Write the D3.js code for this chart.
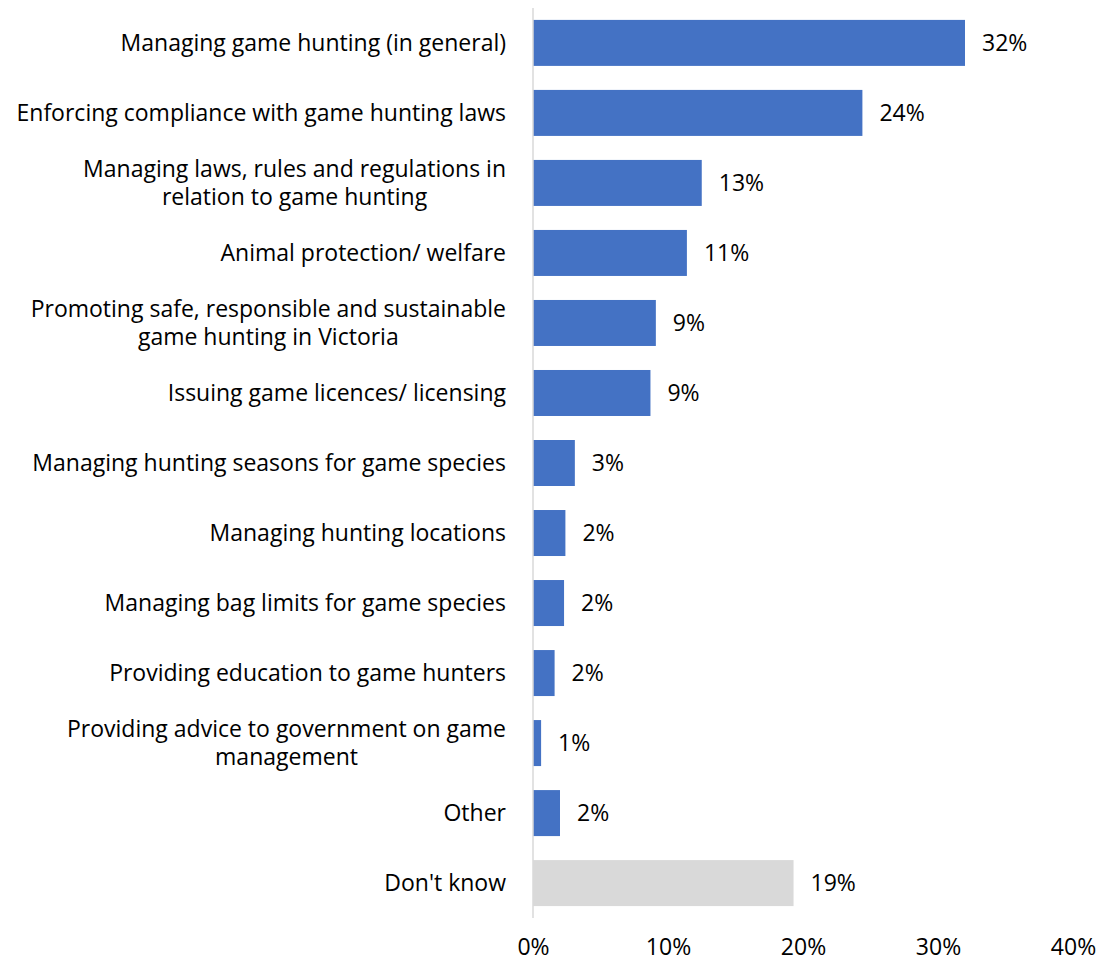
<!DOCTYPE html>
<html>
<head>
<meta charset="utf-8">
<script src="https://cdn.jsdelivr.net/npm/d3@7"></script>
<style>
  html, body { margin: 0; padding: 0; background: #fff; }
  svg text { font-family: "Open Sans", "Lato", sans-serif; fill: #000; }
</style>
</head>
<body>
<svg id="chart" width="1104" height="962"></svg>
<script>
// Response categories (line breaks mark wrapped labels)
const categories = [
  "Managing game hunting (in general)",
  "Enforcing compliance with game hunting laws",
  "Managing laws, rules and regulations in\nrelation to game hunting",
  "Animal protection/ welfare",
  "Promoting safe, responsible and sustainable\ngame hunting in Victoria",
  "Issuing game licences/ licensing",
  "Managing hunting seasons for game species",
  "Managing hunting locations",
  "Managing bag limits for game species",
  "Providing education to game hunters",
  "Providing advice to government on game\nmanagement",
  "Other",
  "Don't know"
];
// Share of respondents (%)
const values = [32.0, 24.4, 12.5, 11.4, 9.1, 8.7, 3.1, 2.4, 2.3, 1.6, 0.6, 2.0, 19.3];
const highlightCategory = "Don't know";
const xTicks = [0, 10, 20, 30, 40];

const svg = d3.select("#chart");
const margin = { left: 533, right: 31 };
const width = 1104;
const fontSize = 23;

const x = d3.scaleLinear().domain([0, 40]).range([margin.left, width - margin.right]);
const y = d3.scaleBand().domain(categories).range([8, 918]).paddingInner(0.343).paddingOuter(0.17);

const data = categories.map((c, i) => ({ c, v: values[i] }));

svg.append("g").selectAll("rect").data(data).join("rect")
  .attr("x", x(0))
  .attr("y", d => y(d.c))
  .attr("width", d => x(d.v) - x(0))
  .attr("height", y.bandwidth())
  .attr("fill", d => d.c === highlightCategory ? "#D9D9D9" : "#4472C4");

// value axis line
svg.append("line")
  .attr("x1", x(0)).attr("x2", x(0))
  .attr("y1", 8).attr("y2", 918)
  .attr("stroke", "#D9D9D9").attr("stroke-width", 1.5);

// category labels: right-aligned blocks, wrapped lines centred within the block
const lineH = 28;
const labelRight = x(0) - 27;
svg.append("g").selectAll("text").data(data).join("text")
  .attr("font-size", fontSize)
  .each(function(d) {
    const lines = d.c.split("\n");
    const cy = y(d.c) + y.bandwidth() / 2;
    const t = d3.select(this);
    const spans = lines.map((ln, k) => t.append("tspan")
      .attr("y", cy + (k - (lines.length - 1) / 2) * lineH)
      .attr("dy", "0.36em")
      .text(ln));
    if (lines.length === 1) {
      t.attr("text-anchor", "end");
      spans[0].attr("x", labelRight);
    } else {
      const widths = spans.map(s => s.node().getComputedTextLength());
      const blockW = Math.max(...widths);
      t.attr("text-anchor", "middle");
      spans.forEach(s => s.attr("x", labelRight - blockW / 2));
    }
  });

// value labels
const fmt = v => Math.round(v) + "%";
svg.append("g").selectAll("text").data(data).join("text")
  .attr("x", d => x(d.v) + 17)
  .attr("y", d => y(d.c) + y.bandwidth() / 2)
  .attr("dy", "0.36em")
  .attr("font-size", fontSize)
  .text(d => fmt(d.v));

// x axis tick labels
const xAxis = d3.axisBottom(x).tickValues(xTicks).tickFormat(d => d + "%").tickSize(0).tickPadding(0);
const gx = svg.append("g").attr("transform", `translate(0, 955)`).call(xAxis);
gx.select(".domain").remove();
gx.selectAll("text")
  .attr("dy", 0)
  .attr("font-size", fontSize)
  .attr("fill", "#000")
  .attr("font-family", "Open Sans, Lato, sans-serif");
</script>
</body>
</html>
